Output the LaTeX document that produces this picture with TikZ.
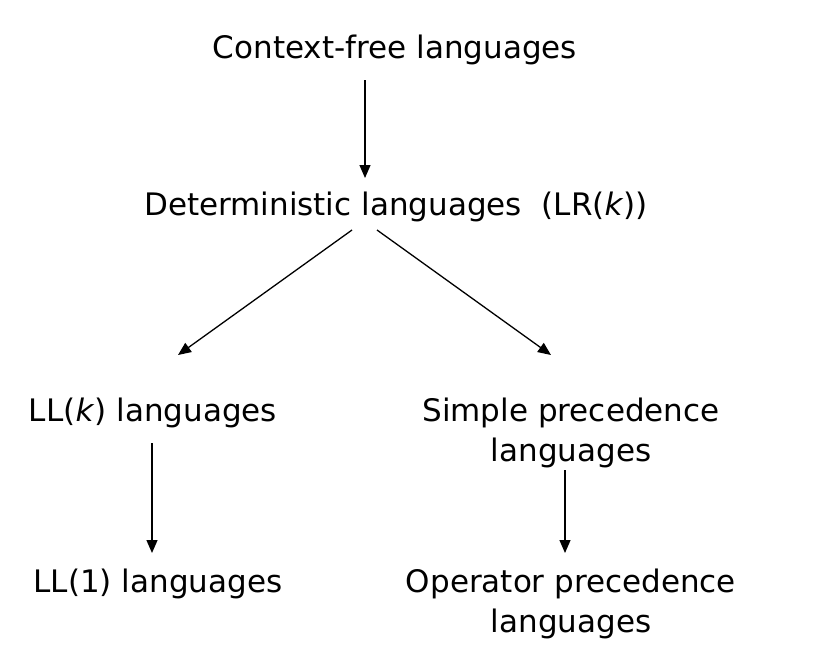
\documentclass[tikz,border=0pt]{standalone}
\usepackage{fontspec}
\setmainfont{DejaVu Sans}
\usetikzlibrary{arrows.meta,calc}
\begin{document}
\begin{tikzpicture}[x=1pt,y=1pt,
  lbl/.style={inner sep=0pt,anchor=base,font=\fontsize{31}{36}\selectfont},
  arr/.style={line width=1.3pt,-{Triangle[length=13pt,width=11pt]}}]
\useasboundingbox (0,0) rectangle (817,-656);
\node[lbl] (cf) at (395,-58) {Context-free languages};
\node[lbl] (det) at (396,-215) {Deterministic languages\ \ (LR(\textit{k}))};
\node[lbl] (llk) at (153,-421) {LL(\textit{k}) languages};
\node[lbl] (sp1) at (571,-421) {Simple precedence};
\node[lbl] (sp2) at (571,-461) {languages};
\node[lbl] (ll1) at (158,-592) {LL(1) languages};
\node[lbl] (op1) at (571,-592) {Operator precedence};
\node[lbl] (op2) at (571,-632) {languages};
\draw[arr] ($(cf.base)+(-30,-22)$) -- ($(det.base)+(-31,37)$);
\draw[arr] ($(det.base)+(-44,-15)$) -- ($(llk.base)+(25,66)$);
\draw[arr] ($(det.base)+(-19,-15)$) -- ($(sp1.base)+(-20,66)$);
\draw[arr] ($(llk.base)+(-1,-22)$) -- ($(ll1.base)+(-6,39)$);
\draw[arr] ($(sp2.base)+(-6,-9)$) -- ($(op1.base)+(-6,39)$);
\end{tikzpicture}
\end{document}
